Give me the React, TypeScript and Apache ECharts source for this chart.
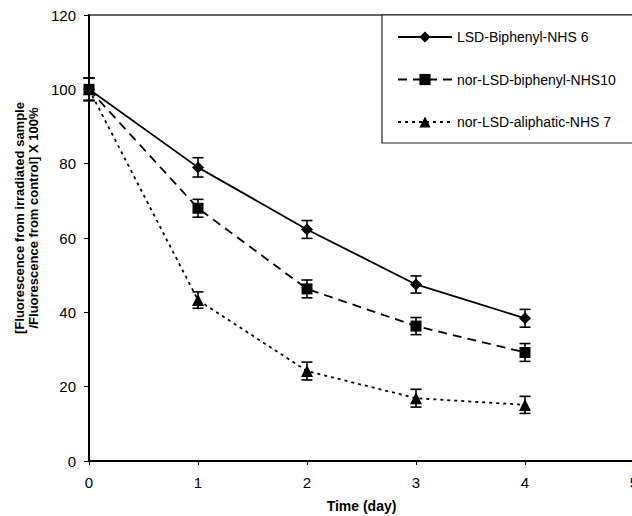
import React, { useEffect, useRef } from "react";
import * as echarts from "echarts";

const days = [0, 1, 2, 3, 4];
const lsdBiphenyl = [100, 79, 62.3, 47.5, 38.4];
const lsdBiphenylErr = [3, 2.6, 2.4, 2.3, 2.4];
const norBiphenyl = [100, 68, 46.3, 36.3, 29.2];
const norBiphenylErr = [3, 2.4, 2.4, 2.3, 2.4];
const norAliphatic = [100, 43.3, 24.2, 16.9, 15.1];
const norAliphaticErr = [3, 2.2, 2.4, 2.4, 2.3];
const seriesNames = ["LSD-Biphenyl-NHS 6", "nor-LSD-biphenyl-NHS10", "nor-LSD-aliphatic-NHS 7"];

const FONT = "'Liberation Sans', Arial, Helvetica, sans-serif";

function pts(vals: number[]) {
  return days.map((d, i) => [d, vals[i]]);
}
function errs(vals: number[], e: number[]) {
  return days.map((d, i) => [d, vals[i] - e[i], vals[i] + e[i]]);
}

const errorRender = (params: any, api: any) => {
  const x = api.value(0);
  const lo = api.value(1);
  const hi = api.value(2);
  const top = api.coord([x, hi]);
  const bot = api.coord([x, lo]);
  const w = 5.5;
  const style = { stroke: "#000", lineWidth: 1.6 };
  return {
    type: "group",
    children: [
      { type: "line", shape: { x1: top[0], y1: top[1], x2: bot[0], y2: bot[1] }, style },
      { type: "line", shape: { x1: top[0] - w, y1: top[1], x2: top[0] + w, y2: top[1] }, style },
      { type: "line", shape: { x1: bot[0] - w, y1: bot[1], x2: bot[0] + w, y2: bot[1] }, style },
    ],
  };
};

export default function App() {
  const ref = useRef<HTMLDivElement>(null);
  useEffect(() => {
    if (!ref.current) return;
    const chart = echarts.init(ref.current, undefined, { renderer: "svg" });
    const lineSeries = (name: string, vals: number[], symbol: string, type: any, size: number) => ({
      name,
      type: "line",
      data: pts(vals),
      symbol,
      symbolSize: size,
      showAllSymbol: true,
      itemStyle: { color: "#000" },
      lineStyle: { color: "#000", width: 1.8, type },
      z: 3,
    });
    const errSeries = (vals: number[], e: number[]) => ({
      type: "custom",
      data: errs(vals, e),
      renderItem: errorRender,
      encode: { x: 0, y: [1, 2] },
      z: 2,
      silent: true,
    });
    chart.setOption({
      animation: false,
      backgroundColor: "#fff",
      textStyle: { fontFamily: FONT },
      grid: {
        left: 89,
        right: -2,
        top: 15,
        bottom: 55,
        outerBoundsMode: "none",
        containLabel: false,
        show: true,
        borderColor: "#333",
        borderWidth: 1.5,
      },
      legend: {
        data: seriesNames,
        orient: "vertical",
        left: 382,
        top: 15,
        itemWidth: 54,
        itemHeight: 14,
        itemGap: 28.5,
        padding: [15, 40, 14, 15],
        borderColor: "#222",
        borderWidth: 1.2,
        backgroundColor: "#fff",
        textStyle: { fontSize: 14, color: "#000", fontFamily: FONT },
      },
      xAxis: {
        type: "value",
        min: 0,
        max: 5,
        interval: 1,
        name: "Time (day)",
        nameLocation: "middle",
        nameGap: 38,
        nameTextStyle: { fontSize: 14, fontWeight: "bold", color: "#000", fontFamily: FONT },
        axisLine: { lineStyle: { color: "#000", width: 2 } },
        axisTick: { show: true, length: 4, lineStyle: { color: "#000", width: 1 } },
        axisLabel: { fontSize: 15, color: "#000", margin: 14, fontFamily: FONT },
        splitLine: { show: false },
      },
      yAxis: {
        type: "value",
        min: 0,
        max: 120,
        interval: 20,
        name: "[Fluorescence from irradiated sample\n/Fluorescence from control] X 100%",
        nameLocation: "middle",
        nameGap: 46,
        nameTextStyle: {
          fontSize: 13,
          fontWeight: "bold",
          color: "#000",
          lineHeight: 14,
          fontFamily: FONT,
          padding: [0, 0, 0, 40],
        },
        axisLine: { show: true, lineStyle: { color: "#000", width: 2 } },
        axisTick: { show: true, length: 5, lineStyle: { color: "#000", width: 1 } },
        axisLabel: { fontSize: 15, color: "#000", margin: 13, fontFamily: FONT },
        splitLine: { show: false },
      },
      series: [
        errSeries(lsdBiphenyl, lsdBiphenylErr),
        errSeries(norBiphenyl, norBiphenylErr),
        errSeries(norAliphatic, norAliphaticErr),
        lineSeries(seriesNames[0], lsdBiphenyl, "diamond", "solid", 12),
        lineSeries(seriesNames[1], norBiphenyl, "rect", [9, 6], 11),
        lineSeries(seriesNames[2], norAliphatic, "triangle", [3, 4], 12),
      ],
    });
    return () => chart.dispose();
  }, []);
  return (
    <div
      ref={ref}
      style={{ position: "fixed", left: 0, top: 0, width: 632, height: 516, background: "#fff" }}
    />
  );
}
